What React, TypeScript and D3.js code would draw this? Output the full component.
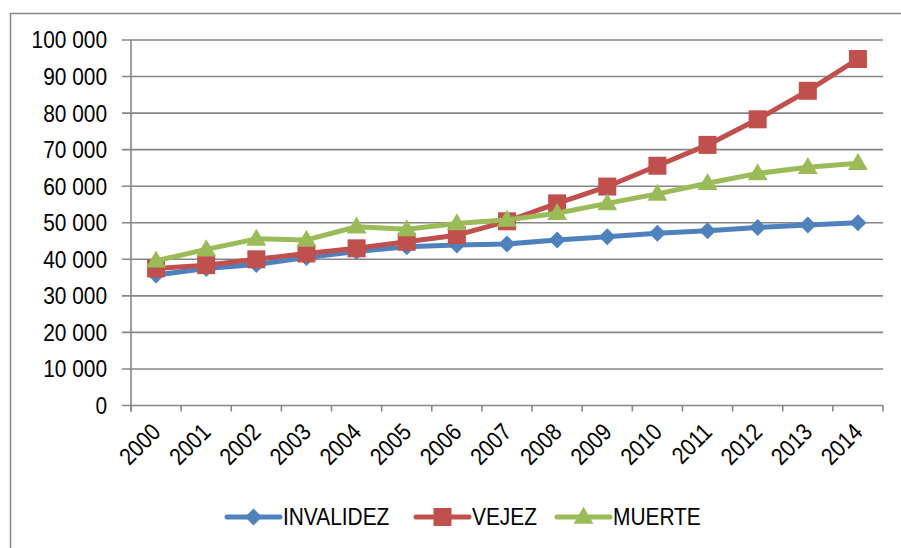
import React from "react";
import * as d3 from "d3";

const years = ["2000","2001","2002","2003","2004","2005","2006","2007","2008","2009","2010","2011","2012","2013","2014"];
const invalidez = [35700,37500,38600,40500,42100,43400,43900,44200,45300,46200,47100,47800,48700,49400,50000];
const vejez = [37500,38400,40000,41600,43000,44800,46600,50400,55300,59900,65600,71300,78300,86100,94800];
const muerte = [39600,42700,45600,45300,48900,48200,49800,50800,52600,55300,57900,60800,63500,65200,66300];
const yTicks = [0,10000,20000,30000,40000,50000,60000,70000,80000,90000,100000];
const seriesNames = ["INVALIDEZ","VEJEZ","MUERTE"];
const colors = ["#4F81BD","#C0504D","#9BBB59"];

const W = 901, H = 548;
const left = 131, right = 883, top = 40, bottom = 405.5;
const font = "'Liberation Sans', Arial, sans-serif";
const SX = 0.87;

function Marker({ kind, x, y, color }: { kind: number; x: number; y: number; color: string }) {
  if (kind === 0) {
    const r = 8.5;
    return <path d={`M${x},${y - r}L${x + r},${y}L${x},${y + r}L${x - r},${y}Z`} fill={color} />;
  }
  if (kind === 1) {
    const s = 18;
    return <rect x={x - s / 2} y={y - s / 2} width={s} height={s} fill={color} />;
  }
  const h = 17, w = 20;
  return <path d={`M${x},${y - h * 0.6}L${x + w / 2},${y + h * 0.4}L${x - w / 2},${y + h * 0.4}Z`} fill={color} />;
}

export default function App() {
  const x = d3.scaleBand<string>().domain(years).range([left, right]);
  const y = d3.scaleLinear().domain([0, 100000]).range([bottom, top]);
  const fmt = (v: number) => d3.format(",")(v).replace(/,/g, " ");
  const cx = (yr: string) => (x(yr) as number) + x.bandwidth() / 2;
  const data = [invalidez, vejez, muerte];
  const line = d3.line<number>().x((_, i) => cx(years[i])).y((v) => y(v));
  const legendX = [227, 416, 557];
  const legendY = 517;

  return (
    <svg width={W} height={H} style={{ position: "absolute", left: 0, top: 0, background: "#fff" }}>
      <rect x={10.5} y={13.5} width={W + 10} height={H + 10} fill="none" stroke="#868686" strokeWidth={1.5} />
      {yTicks.map((t) => (
        <g key={t}>
          <line x1={left - 9} x2={right} y1={y(t)} y2={y(t)} stroke="#868686" strokeWidth={1.6} />
          <text
            transform={`translate(107,${y(t)}) scale(${SX},1)`}
            dy="0.35em"
            textAnchor="end"
            fontFamily={font}
            fontSize={24}
            fill="#000"
          >
            {fmt(t)}
          </text>
        </g>
      ))}
      <line x1={left} x2={left} y1={top} y2={bottom + 6} stroke="#868686" strokeWidth={1.6} />
      {years.map((yr) => (
        <line key={"t" + yr} x1={x(yr) as number} x2={x(yr) as number} y1={bottom} y2={bottom + 6} stroke="#868686" strokeWidth={1.6} />
      ))}
      <line x1={right} x2={right} y1={bottom} y2={bottom + 6} stroke="#868686" strokeWidth={1.6} />
      {years.map((yr) => (
        <text
          key={"l" + yr}
          transform={`translate(${cx(yr) + 6},${bottom + 28}) rotate(-45) scale(${SX},1)`}
          textAnchor="end"
          fontFamily={font}
          fontSize={24}
          fill="#000"
        >
          {yr}
        </text>
      ))}
      {data.map((vals, si) => (
        <g key={si}>
          <path d={line(vals) || ""} fill="none" stroke={colors[si]} strokeWidth={5} strokeLinejoin="round" />
          {vals.map((v, i) => (
            <Marker key={i} kind={si} x={cx(years[i])} y={y(v)} color={colors[si]} />
          ))}
        </g>
      ))}
      {seriesNames.map((n, si) => (
        <g key={n}>
          <line x1={legendX[si]} x2={legendX[si] + 53} y1={legendY} y2={legendY} stroke={colors[si]} strokeWidth={5} strokeLinecap="round" />
          <Marker kind={si} x={legendX[si] + 26.5} y={legendY} color={colors[si]} />
          <text
            transform={`translate(${legendX[si] + 56},${legendY}) scale(${SX},1)`}
            dy="0.35em"
            fontFamily={font}
            fontSize={24}
            fill="#000"
          >
            {n}
          </text>
        </g>
      ))}
    </svg>
  );
}
